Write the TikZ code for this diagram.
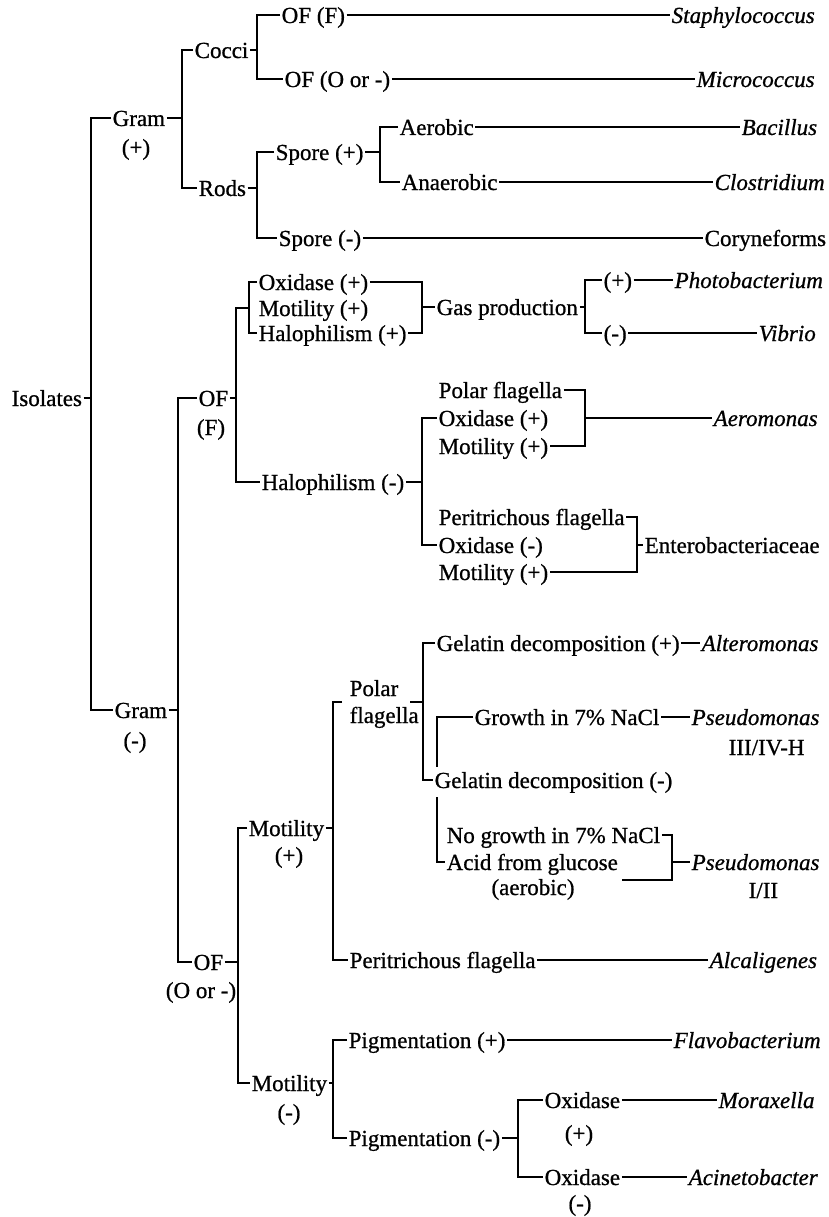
\documentclass[tikz,border=0pt]{standalone}
\usepackage{fontspec}
\setmainfont{Liberation Serif}[UprightFeatures={FakeBold=0.8},ItalicFeatures={FakeBold=0.8}]
\begin{document}
\begin{tikzpicture}[x=1pt,y=-1pt,
  lbl/.style={font=\fontsize{23}{26}\selectfont, inner xsep=1.5pt, inner ysep=0pt, text height=17pt, text depth=1pt, anchor=west},
  sub/.style={lbl, anchor=center},
  sp/.style={lbl, font=\fontsize{23}{26}\selectfont\itshape},
  con/.style={line width=2pt, line join=miter}]
\useasboundingbox (0,0) rectangle (828,1217);
% ---------- nodes ----------
\node[lbl] (iso) at (10,398) {Isolates};
\node[lbl] (gramP) at (111,118) {Gram};
\node[sub] (gramPs) at (136,147) {(+)};
\node[lbl] (gramN) at (113,710) {Gram};
\node[sub] (gramNs) at (135,740) {(-)};
\node[lbl] (cocci) at (193,50) {Cocci};
\node[lbl] (rods) at (197,188) {Rods};
\node[lbl] (ofF) at (280,15) {OF (F)};
\node[lbl] (ofO) at (283,79) {OF (O or -)};
\node[sp] (staph) at (670,15) {Staphylococcus};
\node[sp] (micro) at (695,79) {Micrococcus};
\node[lbl] (sporeP) at (274,152) {Spore (+)};
\node[lbl] (sporeN) at (277,238) {Spore (-)};
\node[lbl] (aer) at (398,127) {Aerobic};
\node[lbl] (anaer) at (400,182) {Anaerobic};
\node[sp] (bac) at (740,127) {Bacillus};
\node[sp] (clos) at (713,182) {Clostridium};
\node[lbl] (cory) at (703,238) {Coryneforms};
% OF (F)
\node[lbl] (ofFF) at (197,398) {OF};
\node[sub] (ofFFs) at (211,427) {(F)};
\node[lbl] (oxP) at (257,282) {Oxidase (+)};
\node[lbl] (motP) at (257,308) {Motility (+)};
\node[lbl] (halP) at (257,333) {Halophilism (+)};
\node[lbl] (gas) at (435,307) {Gas production};
\node[lbl] (plusG) at (602,280) {(+)};
\node[lbl] (minusG) at (602,333) {(-)};
\node[sp] (photo) at (673,280) {Photobacterium};
\node[sp] (vib) at (757,333) {Vibrio};
\node[lbl] (halN) at (260,482) {Halophilism (-)};
\node[lbl] (polF) at (437,390) {Polar flagella};
\node[lbl] (oxP2) at (437,418) {Oxidase (+)};
\node[lbl] (motP2) at (437,446) {Motility (+)};
\node[sp] (aero) at (712,418) {Aeromonas};
\node[lbl] (periF) at (437,517) {Peritrichous flagella};
\node[lbl] (oxN2) at (437,545) {Oxidase (-)};
\node[lbl] (motP3) at (437,572) {Motility (+)};
\node[lbl] (entero) at (643,545) {Enterobacteriaceae};
% OF (O or -)
\node[lbl] (ofOO) at (192,962) {OF};
\node[sub] (ofOOs) at (201,990) {(O or -)};
\node[lbl] (motPP) at (247,828) {Motility};
\node[sub] (motPPs) at (289,855) {(+)};
\node[lbl] (motNN) at (250,1083) {Motility};
\node[sub] (motNNs) at (289,1112) {(-)};
\node[lbl] (polar) at (348,688) {Polar};
\node[lbl] (flag) at (348,715) {flagella};
\node[lbl] (gelP) at (435,643) {Gelatin decomposition (+)};
\node[sp] (alter) at (700,643) {Alteromonas};
\node[lbl] (gelN) at (433,780) {Gelatin decomposition (-)};
\node[lbl] (growth) at (473,717) {Growth in 7\% NaCl};
\node[sp] (pseu1) at (690,717) {Pseudomonas};
\node[lbl] (pseu1s) at (727,747) {III/IV-H};
\node[lbl] (nog) at (445,835) {No growth in 7\% NaCl};
\node[lbl] (acid) at (445,862) {Acid from glucose};
\node[sub] (aerob) at (533,887) {(aerobic)};
\node[sp] (pseu2) at (690,862) {Pseudomonas};
\node[lbl] (pseu2s) at (747,890) {I/II};
\node[lbl] (periF2) at (348,960) {Peritrichous flagella};
\node[sp] (alcal) at (708,960) {Alcaligenes};
\node[lbl] (pigP) at (347,1040) {Pigmentation (+)};
\node[sp] (flavo) at (672,1040) {Flavobacterium};
\node[lbl] (pigN) at (347,1138) {Pigmentation (-)};
\node[lbl] (oxA) at (543,1100) {Oxidase};
\node[sub] (oxAs) at (579,1133) {(+)};
\node[lbl] (oxB) at (543,1177) {Oxidase};
\node[sub] (oxBs) at (580,1203) {(-)};
\node[sp] (mora) at (717,1100) {Moraxella};
\node[sp] (acin) at (687,1177) {Acinetobacter};
% ---------- junctions ----------
\coordinate (sIso) at (91,398);
\coordinate (sGP) at (182,118);
\coordinate (sGN) at (178,710);
\coordinate (sCo) at (257,50);
\coordinate (sRo) at (257,188);
\coordinate (sSp) at (380,152);
\coordinate (sOF) at (236,398);
\coordinate (jG1) at (249,308);
\coordinate (jG2) at (422,307);
\coordinate (sGas) at (585,307);
\coordinate (sHal) at (422,482);
\coordinate (jG3) at (585,418);
\coordinate (jG4) at (637,545);
\coordinate (sOFO) at (238,962);
\coordinate (sMP) at (333,828);
\coordinate (jPF) at (342,702);
\coordinate (sPF) at (423,702);
\coordinate (jPFe) at (410,702);
\coordinate (gA) at (437,767);
\coordinate (gB) at (437,797);
\coordinate (jAer) at (622,880);
\coordinate (jG5) at (672,862);
\coordinate (sMN) at (333,1083);
\coordinate (sPN) at (518,1138);
% ---------- connectors ----------
\draw[con] (iso.east) -- (sIso);
\draw[con] (gramP.west) -| (sIso) |- (gramN.west);
\draw[con] (gramP.east) -- (sGP);
\draw[con] (cocci.west) -| (sGP) |- (rods.west);
\draw[con] (cocci.east) -- (sCo);
\draw[con] (ofF.west) -| (sCo) |- (ofO.west);
\draw[con] (ofF.east) -- (staph.west);
\draw[con] (ofO.east) -- (micro.west);
\draw[con] (rods.east) -- (sRo);
\draw[con] (sporeP.west) -| (sRo) |- (sporeN.west);
\draw[con] (sporeP.east) -- (sSp);
\draw[con] (aer.west) -| (sSp) |- (anaer.west);
\draw[con] (aer.east) -- (bac.west);
\draw[con] (anaer.east) -- (clos.west);
\draw[con] (sporeN.east) -- (cory.west);
\draw[con] (gramN.east) -- (sGN);
\draw[con] (ofFF.west) -| (sGN) |- (ofOO.west);
\draw[con] (ofFF.east) -- (sOF);
\draw[con] (jG1) -| (sOF) |- (halN.west);
\draw[con] (oxP.west) -| (jG1) |- (halP.west);
\draw[con] (oxP.east) -| (jG2) |- (halP.east);
\draw[con] (jG2) -- (gas.west);
\draw[con] (gas.east) -- (sGas);
\draw[con] (plusG.west) -| (sGas) |- (minusG.west);
\draw[con] (plusG.east) -- (photo.west);
\draw[con] (minusG.east) -- (vib.west);
\draw[con] (halN.east) -- (sHal);
\draw[con] (oxP2.west) -| (sHal) |- (oxN2.west);
\draw[con] (polF.east) -| (jG3) |- (motP2.east);
\draw[con] (jG3) -- (aero.west);
\draw[con] (periF.east) -| (jG4) |- (motP3.east);
\draw[con] (jG4) -- (entero.west);
\draw[con] (ofOO.east) -- (sOFO);
\draw[con] (motPP.west) -| (sOFO) |- (motNN.west);
\draw[con] (motPP.east) -- (sMP);
\draw[con] (jPF) -| (sMP) |- (periF2.west);
\draw[con] (jPFe) -- (sPF);
\draw[con] (gelP.west) -| (sPF) |- (gelN.west);
\draw[con] (gelP.east) -- (alter.west);
\draw[con] (growth.west) -| (gA);
\draw[con] (gB) |- (acid.west);
\draw[con] (growth.east) -- (pseu1.west);
\draw[con] (nog.east) -| (jG5) |- (jAer);
\draw[con] (jG5) -- (pseu2.west);
\draw[con] (periF2.east) -- (alcal.west);
\draw[con] (motNN.east) -- (sMN);
\draw[con] (pigP.west) -| (sMN) |- (pigN.west);
\draw[con] (pigP.east) -- (flavo.west);
\draw[con] (pigN.east) -- (sPN);
\draw[con] (oxA.west) -| (sPN) |- (oxB.west);
\draw[con] (oxA.east) -- (mora.west);
\draw[con] (oxB.east) -- (acin.west);
\end{tikzpicture}
\end{document}
